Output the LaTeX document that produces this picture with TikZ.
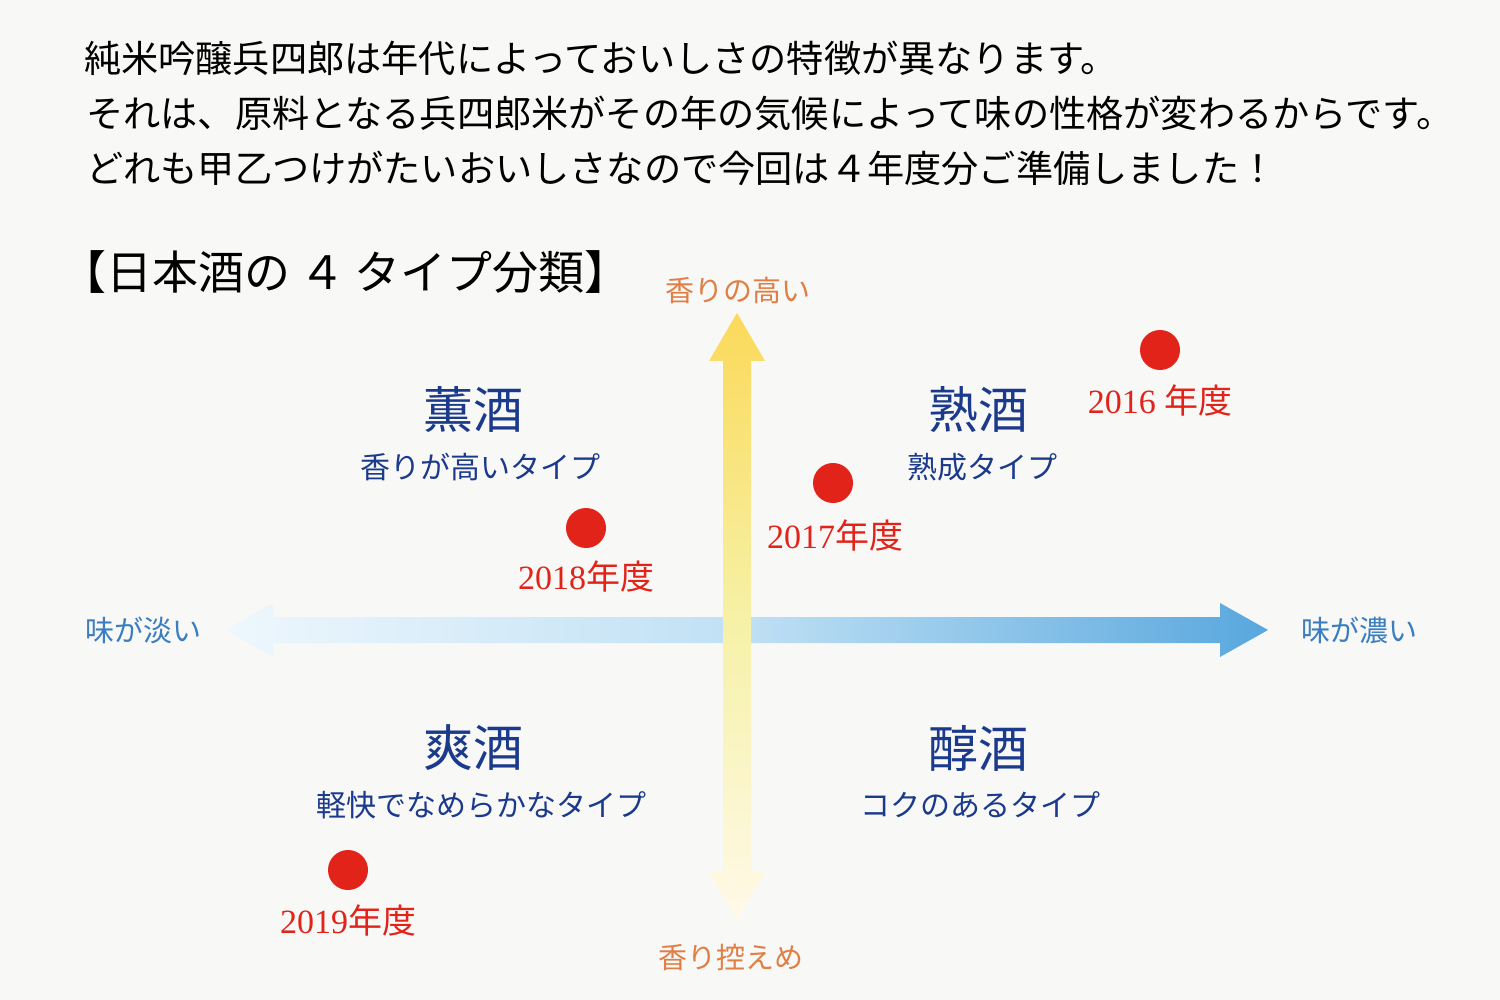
\documentclass[tikz,border=0pt]{standalone}
\usepackage{fontspec}
\setmainfont{Liberation Serif}
\newfontfamily\cjk{Noto Sans CJK JP}
\definecolor{paper}{HTML}{F8F8F7}
\definecolor{navy}{HTML}{1B3A8C}
\definecolor{axorange}{HTML}{DF7F45}
\definecolor{axblue}{HTML}{3A7EC0}
\definecolor{dotred}{HTML}{E2231A}
\definecolor{yeltop}{HTML}{FBD95A}
\definecolor{yelmid}{HTML}{F6F1A6}
\definecolor{yelbot}{HTML}{FFF9E8}
\definecolor{blueL}{HTML}{EEF7FD}
\definecolor{blueM}{HTML}{BFE0F4}
\definecolor{blueR}{HTML}{58A7DE}
\tikzset{
  body/.style={anchor=west, inner sep=0pt, font=\cjk\fontsize{37.2}{40}\selectfont, text=black},
  title/.style={anchor=west, inner sep=0pt, font=\cjk\fontsize{46}{50}\selectfont, text=black},
  axisor/.style={inner sep=0pt, font=\cjk\fontsize{29}{32}\selectfont, text=axorange},
  axisbl/.style={inner sep=0pt, font=\cjk\fontsize{29}{32}\selectfont, text=axblue},
  qbig/.style={inner sep=0pt, font=\cjk\fontsize{50}{54}\selectfont, text=navy},
  qsub/.style={inner sep=0pt, font=\cjk\fontsize{30}{33}\selectfont, text=navy},
  dot/.style={circle, fill=dotred, minimum size=40pt, inner sep=0pt},
  year/.style={inner sep=0pt, font=\fontsize{34}{38}\selectfont, text=dotred},
}
\newcommand{\yr}[2]{#1{\cjk #2}}
\begin{document}
\begin{tikzpicture}[x=1pt,y=-1pt]
\useasboundingbox (0,0) rectangle (1500,1000);
\fill[paper] (0,0) rectangle (1500,1000);

% intro text
\node[body] (l1) at (84,58) {純米吟醸兵四郎は年代によっておいしさの特徴が異なります。};
\node[body] (l2) at (86,113) {それは、原料となる兵四郎米がその年の気候によって味の性格が変わるからです。};
\node[body] (l3) at (86,168) {どれも甲乙つけがたいおいしさなので今回は４年度分ご準備しました！};
\node[title] (ttl) at (60,272) {【日本酒の\hspace{0.2em}４\hspace{0.2em}タイプ分類】};

% horizontal arrow
\coordinate (hl) at (226,630);
\coordinate (hr) at (1268,630);
\path[left color=blueL, right color=blueR, middle color=blueM]
  (hl) -- (273,603) -- (273,617) -- (1220,617) -- (1220,603) -- (hr)
  -- (1220,657) -- (1220,643) -- (273,643) -- (273,657) -- cycle;

% vertical arrow
\coordinate (vt) at (737,313);
\coordinate (vb) at (737,920);
\path[top color=yeltop, bottom color=yelbot, middle color=yelmid]
  (vt) -- (765,361) -- (751,361) -- (751,872) -- (765,872) -- (vb)
  -- (709,872) -- (723,872) -- (723,361) -- (709,361) -- cycle;

% axis labels
\node[axisor] (ahigh) at (738,290) {香りの高い};
\node[axisor] (alow) at (731,957) {香り控えめ};
\node[axisbl] (aleft) at (143,630) {味が淡い};
\node[axisbl] (aright) at (1359,630) {味が濃い};

% quadrants
\node[qbig] (q1) at (473,410) {薫酒};
\node[qsub] (q1s) at (480,467) {香りが高いタイプ};
\node[qbig] (q2) at (978,410) {熟酒};
\node[qsub] (q2s) at (982,467) {熟成タイプ};
\node[qbig] (q3) at (473,748) {爽酒};
\node[qsub] (q3s) at (481,805) {軽快でなめらかなタイプ};
\node[qbig] (q4) at (978,748) {醇酒};
\node[qsub] (q4s) at (980,805) {コクのあるタイプ};

% years
\node[dot] (d16) at (1160,350) {};
\node[year] (y16) at (1160,401) {\yr{2016 }{年度}};
\node[dot] (d17) at (833,483) {};
\node[year] (y17) at (835,536) {\yr{2017}{年度}};
\node[dot] (d18) at (586,528) {};
\node[year] (y18) at (586,577) {\yr{2018}{年度}};
\node[dot] (d19) at (348,870) {};
\node[year] (y19) at (348,921) {\yr{2019}{年度}};
\end{tikzpicture}
\end{document}
